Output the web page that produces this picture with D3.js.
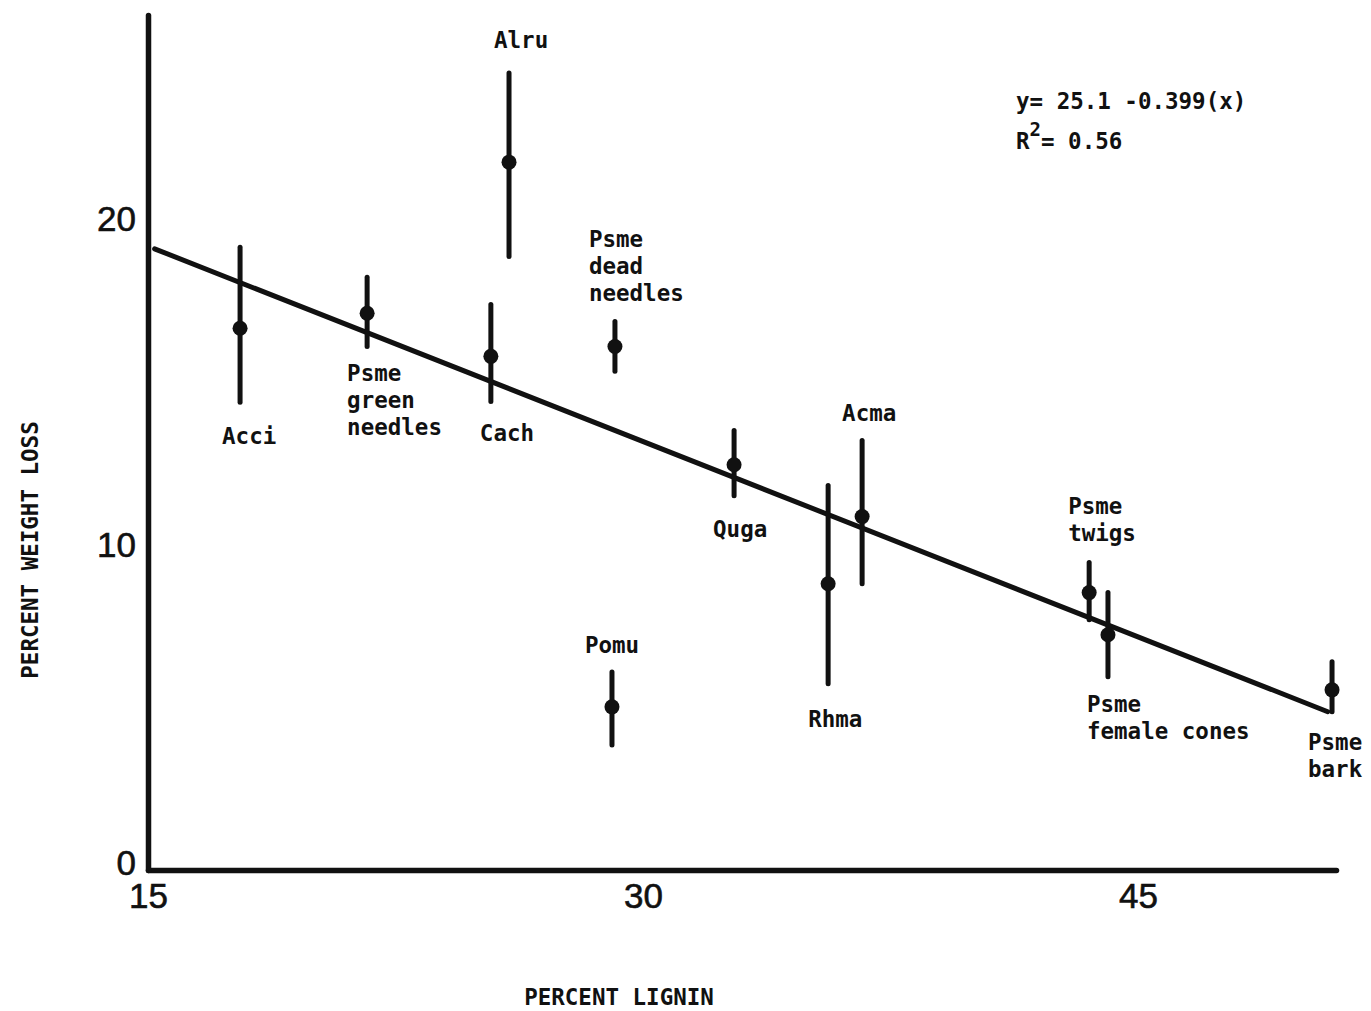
<!DOCTYPE html>
<html>
<head>
<meta charset="utf-8">
<script src="https://cdn.jsdelivr.net/npm/d3@7"></script>
<style>
  html, body { margin: 0; padding: 0; background: #fff; }
  svg { display: block; }
  .lbl { font-family: "DejaVu Sans Mono", "Liberation Mono", monospace; font-size: 22.5px; font-weight: bold; fill: #111; }
  .tick text { font-family: "Liberation Sans", Arial, sans-serif; font-size: 35px; fill: #111; stroke: #111; stroke-width: 0.6px; }
</style>
</head>
<body>
<svg id="chart" width="1371" height="1011"></svg>
<script>
// ---- data ----
const species = ["Acci", "Psme green needles", "Cach", "Alru", "Psme dead needles", "Pomu",
                 "Quga", "Rhma", "Acma", "Psme twigs", "Psme female cones", "Psme bark"];
const labelLines = [["Acci"], ["Psme", "green", "needles"], ["Cach"], ["Alru"], ["Psme", "dead", "needles"], ["Pomu"],
                    ["Quga"], ["Rhma"], ["Acma"], ["Psme", "twigs"], ["Psme", "female cones"], ["Psme", "bark"]];
const lignin     = [17.79, 21.64, 25.39, 25.94, 29.15, 29.06, 32.76, 35.61, 36.64, 43.52, 44.09, 50.88];
const weightLoss = [16.60, 17.06, 15.74, 21.69, 16.04, 5.00, 12.42, 8.77, 10.83, 8.50, 7.21, 5.52];
const errHigh    = [19.08, 18.16, 17.33, 24.42, 16.81, 6.07, 13.47, 11.78, 13.16, 9.42, 8.50, 6.38];
const errLow     = [14.33, 16.04, 14.36, 18.80, 15.28, 3.83, 11.47, 5.71, 8.77, 7.67, 5.92, 4.85];
const xTicks = [15, 30, 45];
const yTicks = [0, 10, 20];
const intercept = 25.1, slope = -0.399;
const fitRange = [15.2, 50.75];
const xDomain = [15, 51];
const yDomain = [0, 26.2];

// ---- layout (label offsets in px from the point, not data) ----
const labelOffsets = [[-18, 116], [-20, 68], [-11, 85], [-15, -114], [-26, -100], [-27, -54],
                      [-21, 72], [-20, 143], [-20, -96], [-21, -79], [-21, 77], [-24, 60]];
const lineH = 27;

const svg = d3.select("#chart");
svg.append("rect").attr("width", 1371).attr("height", 1011).attr("fill", "#fff");

const x = d3.scaleLinear().domain(xDomain).range([148, 1336]);
const y = d3.scaleLinear().domain(yDomain).range([870, 15]);

// axes
const xAxis = svg.append("g").attr("transform", "translate(0,870)")
  .call(d3.axisBottom(x).tickValues(xTicks).tickSizeInner(0).tickSizeOuter(0).tickPadding(10));
const yAxis = svg.append("g").attr("transform", "translate(148,0)")
  .call(d3.axisLeft(y).tickValues(yTicks).tickSizeInner(0).tickSizeOuter(0).tickPadding(12));
[xAxis, yAxis].forEach(g => {
  g.select(".domain").attr("stroke", "#111").attr("stroke-width", 5.5).attr("stroke-linecap", "round");
  g.selectAll(".tick line").remove();
});
xAxis.selectAll(".tick text").attr("dy", "0.8em");
yAxis.selectAll(".tick text").attr("dy", "0.38em");
yAxis.selectAll(".tick text").filter(d => d === 0).attr("dy", "0.12em");

// axis titles
svg.append("text").attr("class", "lbl").attr("x", 619).attr("y", 1005)
  .attr("text-anchor", "middle").text("PERCENT LIGNIN");
svg.append("text").attr("class", "lbl")
  .attr("transform", "translate(38,550) rotate(-90)")
  .attr("text-anchor", "middle").text("PERCENT WEIGHT LOSS");

// regression line
svg.append("line")
  .attr("x1", x(fitRange[0])).attr("y1", y(intercept + slope * fitRange[0]))
  .attr("x2", x(fitRange[1])).attr("y2", y(intercept + slope * fitRange[1]))
  .attr("stroke", "#111").attr("stroke-width", 5).attr("stroke-linecap", "round");

// error bars and points
const idx = d3.range(species.length);
svg.append("g").selectAll("line").data(idx).join("line")
  .attr("x1", i => x(lignin[i])).attr("x2", i => x(lignin[i]))
  .attr("y1", i => y(errHigh[i])).attr("y2", i => y(errLow[i]))
  .attr("stroke", "#111").attr("stroke-width", 5).attr("stroke-linecap", "round");
svg.append("g").selectAll("circle").data(idx).join("circle")
  .attr("cx", i => x(lignin[i])).attr("cy", i => y(weightLoss[i])).attr("r", 7.5)
  .attr("fill", "#111");

// labels
const lg = svg.append("g");
idx.forEach(i => {
  const t = lg.append("text").attr("class", "lbl")
    .attr("x", x(lignin[i]) + labelOffsets[i][0])
    .attr("y", y(weightLoss[i]) + labelOffsets[i][1]);
  labelLines[i].forEach((s, k) => {
    t.append("tspan").attr("x", x(lignin[i]) + labelOffsets[i][0])
      .attr("dy", k === 0 ? 0 : lineH).text(s);
  });
});

// equation
svg.append("text").attr("class", "lbl").attr("x", 1016).attr("y", 109)
  .text("y= " + intercept.toFixed(1) + " " + slope.toFixed(3) + "(x)");
const r2 = svg.append("text").attr("class", "lbl").attr("x", 1016).attr("y", 149);
r2.append("tspan").text("R");
r2.append("tspan").attr("dy", -13).style("font-size", "19px").text("2");
r2.append("tspan").attr("dy", 13).text("= 0.56");
</script>
</body>
</html>
